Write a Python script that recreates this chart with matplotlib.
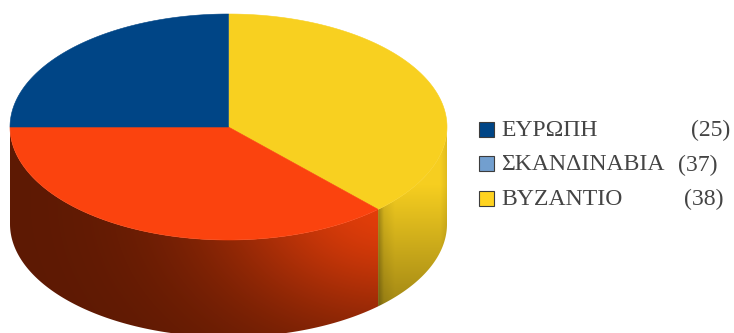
import numpy as np
import matplotlib
matplotlib.use('Agg')
import matplotlib.pyplot as plt
from matplotlib.patches import Polygon, Rectangle

# slices run clockwise from twelve o'clock
names = ['ΒΥΖΑΝΤΙΟ', 'ΣΚΑΝΔΙΝΑΒΙΑ', 'ΕΥΡΩΠΗ']
values = [38, 37, 25]
slice_colors = ['#f8d020', '#fb430e', '#004586']

legend_names = ['ΕΥΡΩΠΗ', 'ΣΚΑΝΔΙΝΑΒΙΑ', 'ΒΥΖΑΝΤΙΟ']
legend_values = [25, 37, 38]
legend_colors = ['#004586', '#729fcf', '#ffd320']
legend_value_x = [691, 678, 684]

cx, cy = 228.5, 127
rx, ry = 218.5, 113
depth = 97

W, H = 734, 333
fig = plt.figure(figsize=(W / 100, H / 100), dpi=100)
ax = fig.add_axes([0, 0, 1, 1])
ax.set_xlim(0, W)
ax.set_ylim(H, 0)
ax.axis('off')


def rim(a, b, n=200):
    t = np.radians(np.linspace(a, b, n))
    return cx + rx * np.sin(t), cy - ry * np.cos(t)


xx, yy = np.meshgrid(np.arange(W) + 0.5, np.arange(H) + 0.5)


def red_side():
    # lit from the right end of the slice, fading to dark on the left and downwards
    d = np.hypot(xx - 390, (yy - 200) * 1.4)
    g = np.exp(-(d / 175) ** 2)
    bright = np.array([228, 62, 10])
    dark = np.array([92, 25, 3])
    return np.dstack([(dark[i] + (bright[i] - dark[i]) * g) / 255 for i in range(3)])


def yellow_side():
    v = np.clip((yy - 185) / 120, 0, 1)
    base = np.array([246, 206, 32]) / 255
    k = 1 - 0.34 * v
    k = k * np.interp(xx, [379, 384, 395, 440, 448], [0.72, 0.92, 1, 1, 0.9])
    return np.dstack([base[i] * k for i in range(3)])


shaders = [yellow_side, red_side, None]

bounds = np.cumsum([0] + values) * 3.6
for i in range(len(values)):
    a, b = bounds[i], bounds[i + 1]
    lo, hi = max(a, 90), min(b, 270)
    if shaders[i] is None or lo >= hi:
        continue
    x, y = rim(lo, hi)
    side = Polygon(np.r_[np.c_[x, y], np.c_[x, y + depth][::-1]], closed=True, fc='none', ec='none')
    ax.add_patch(side)
    im = ax.imshow(shaders[i](), extent=(0, W, H, 0), aspect='auto', interpolation='bilinear', zorder=1)
    im.set_clip_path(side)

for i in range(len(values)):
    x, y = rim(bounds[i], bounds[i + 1])
    pts = np.r_[[[cx, cy]], np.c_[x, y]]
    ax.add_patch(Polygon(pts, closed=True, fc=slice_colors[i], ec=slice_colors[i], lw=0.4, zorder=2))

ax.set_xlim(0, W)
ax.set_ylim(H, 0)

font = ['Liberation Serif', 'DejaVu Serif']
for i, row_y in enumerate([129, 163.5, 198]):
    ax.add_patch(Rectangle((479, row_y - 7.5), 15, 15, fc=legend_colors[i], ec='#3c3c3c', lw=0.8, zorder=3))
    ax.text(501.5, row_y + 1.5, legend_names[i], family=font, fontsize=17.1, color='#444444', va='center', ha='left')
    ax.text(legend_value_x[i], row_y + 1.5, '(%d)' % legend_values[i], family=font, fontsize=17.1,
            color='#444444', va='center', ha='left')

fig.savefig('out.png', dpi=100, facecolor='white')
